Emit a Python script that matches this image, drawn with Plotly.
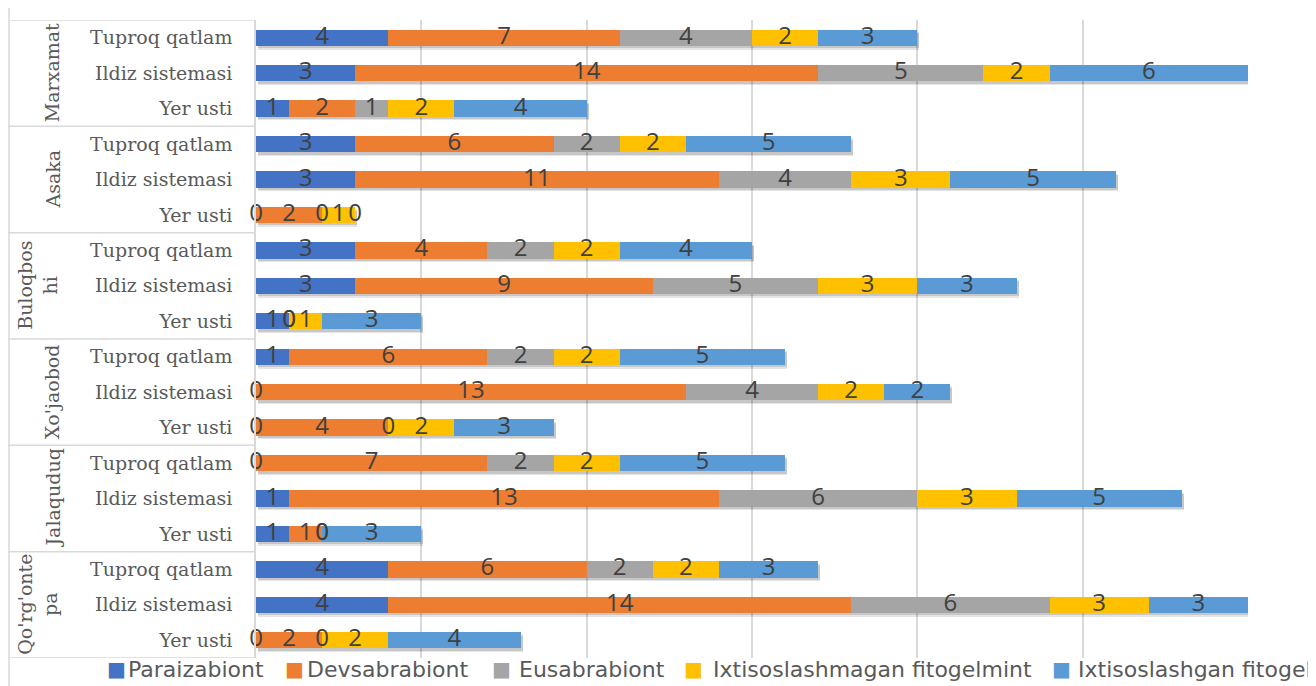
import plotly.graph_objects as go

# ---------------- data ----------------
regions = ["Marxamat", "Asaka", "Buloqboshi", "Xo'jaobod", "Jalaquduq", "Qo'rg'ontepa"]
region_labels = ["Marxamat", "Asaka", "Buloqbos<br>hi", "Xo'jaobod", "Jalaquduq", "Qo'rg'onte<br>pa"]
layers = ["Tuproq qatlam", "Ildiz sistemasi", "Yer usti"]

series_names = ["Paraizabiont", "Devsabrabiont", "Eusabrabiont",
                "Ixtisoslashmagan fitogelmint", "Ixtisoslashgan fitogelmint"]

# rows: for each region (top to bottom) -> Tuproq qatlam, Ildiz sistemasi, Yer usti
paraizabiont = [4, 3, 1, 3, 3, 0, 3, 3, 1, 1, 0, 0, 0, 1, 1, 4, 4, 0]
devsabrabiont = [7, 14, 2, 6, 11, 2, 4, 9, 0, 6, 13, 4, 7, 13, 1, 6, 14, 2]
eusabrabiont = [4, 5, 1, 2, 4, 0, 2, 5, 0, 2, 4, 0, 2, 6, 0, 2, 6, 0]
ixtisoslashmagan = [2, 2, 2, 2, 3, 1, 2, 3, 1, 2, 2, 2, 2, 3, 0, 2, 3, 2]
ixtisoslashgan = [3, 6, 4, 5, 5, 0, 4, 3, 3, 5, 2, 3, 5, 5, 3, 3, 3, 4]

x_ticks = [0, 5, 10, 15, 20, 25, 30]

# ---------------- styling ----------------
colors = ["#4472C4", "#ED7D31", "#A5A5A5", "#FFC000", "#5B9BD5"]
OFF = 8                      # page body margin of the html page
W, H = 1316 - OFF, 686 - OFF
ML, MR, MT, MB = 256 - OFF, 68, 20 - OFF, 28
PW, PH = W - ML - MR, H - MT - MB


def px_x(px):
    """screen x (page pixels) -> paper x"""
    return (px - OFF - ML) / PW


def px_y(py):
    """screen y (page pixels) -> paper y"""
    return 1 - (py - OFF - MT) / PH


series = [paraizabiont, devsabrabiont, eusabrabiont, ixtisoslashmagan, ixtisoslashgan]
n_rows = len(regions) * len(layers)
rows = list(range(n_rows))
row_labels = [l for r in regions for l in layers]
totals = [sum(s[i] for s in series) for i in rows]

row_px = PH / n_rows
unit_px = PW / (x_ticks[-1] - x_ticks[0])
shadow_dy = 3 / row_px
shadow_dx = 2 / unit_px
bar_w = 0.46

fig = go.Figure()

# shadow (drawn on the base subplot, below the bars)
fig.add_trace(go.Bar(
    y=rows, x=totals, base=shadow_dx, orientation="h", width=bar_w + 0.04,
    marker=dict(color="rgba(0,0,0,0.10)", line=dict(width=0)),
    xaxis="x", yaxis="y", showlegend=False, hoverinfo="skip"))
fig.add_trace(go.Bar(
    y=rows, x=totals, base=shadow_dx, orientation="h", width=bar_w - 0.04,
    marker=dict(color="rgba(0,0,0,0.13)", line=dict(width=0)),
    xaxis="x", yaxis="y", showlegend=False, hoverinfo="skip"))

# stacked bars
for name, vals, col in zip(series_names, series, colors):
    fig.add_trace(go.Bar(
        y=rows, x=vals, name=name, orientation="h", width=bar_w,
        marker=dict(color=col, line=dict(width=0)),
        xaxis="x", yaxis="y2", showlegend=False))

# data labels (centre of each segment, zeros included as in the source)
lab_x, lab_y, lab_t = [], [], []
for i in rows:
    cum = 0
    for s in series:
        v = s[i]
        lab_x.append(cum + v / 2)
        lab_y.append(i)
        lab_t.append(str(v))
        cum += v
fig.add_trace(go.Scatter(
    x=lab_x, y=lab_y, text=lab_t, mode="text", textposition="middle center",
    textfont=dict(family="Open Sans", size=24, color="#404040"),
    xaxis="x", yaxis="y2", showlegend=False, hoverinfo="skip", cliponaxis=False))

fig.update_layout(
    width=W, height=H,
    margin=dict(l=ML, r=MR, t=MT, b=MB),
    paper_bgcolor="white", plot_bgcolor="white",
    barmode="stack", bargap=0.5,
    showlegend=False,
    xaxis=dict(range=[x_ticks[0], x_ticks[-1]], tickvals=x_ticks, showticklabels=False,
               showgrid=True, gridcolor="#D9D9D9", gridwidth=1.5, zeroline=False,
               showline=False, ticks=""),
    yaxis=dict(range=[n_rows - 0.5 - shadow_dy, -0.5 - shadow_dy], visible=False,
               showgrid=False, zeroline=False),
    yaxis2=dict(overlaying="y", side="left", range=[n_rows - 0.5, -0.5],
                tickvals=rows, ticktext=row_labels, showgrid=False, zeroline=False,
                showline=True, linecolor="#D9D9D9", linewidth=1.5, ticks="",
                ticklabelstandoff=18,
                tickfont=dict(family="DejaVu Serif", size=19, color="#595959")),
)

shapes = []
# category box lines
for g in range(len(regions) + 1):
    yb = g * len(layers) - 0.5
    shapes.append(dict(type="line", xref="paper", yref="y2", x0=px_x(8), x1=0,
                       y0=yb, y1=yb, line=dict(color="#D9D9D9", width=1.5)))
# outer chart border at left
shapes.append(dict(type="line", xref="paper", yref="paper", x0=px_x(9), x1=px_x(9),
                   y0=px_y(686), y1=px_y(OFF), line=dict(color="#D9D9D9", width=1.5)))
fig.update_layout(shapes=shapes)

annotations = []
for g, lab in enumerate(region_labels):
    two = "<br>" in lab
    annotations.append(dict(
        text=lab, xref="paper", yref="y2", x=px_x(38 if two else 52),
        y=g * len(layers) + 1, textangle=-90, showarrow=False,
        xanchor="center", yanchor="middle", align="center",
        font=dict(family="DejaVu Serif", size=19, color="#595959")))

# legend (drawn as text, clipped at the right edge like the source)
leg_sq = [105, 283, 490, 682, 1050]
leg_tx = [126, 305, 517, 711, 1076]
leg_y = px_y(669)
for name, col, sx, tx in zip(series_names, colors, leg_sq, leg_tx):
    annotations.append(dict(
        text="■", xref="paper", yref="paper", x=px_x(sx), y=leg_y,
        xanchor="left", yanchor="middle", showarrow=False,
        font=dict(family="DejaVu Sans", size=20, color=col)))
    annotations.append(dict(
        text=name, xref="paper", yref="paper", x=px_x(tx), y=leg_y,
        xanchor="left", yanchor="middle", showarrow=False,
        font=dict(family="DejaVu Sans", size=22, color="#595959")))
fig.update_layout(annotations=annotations)

fig.write_html("out.html")
